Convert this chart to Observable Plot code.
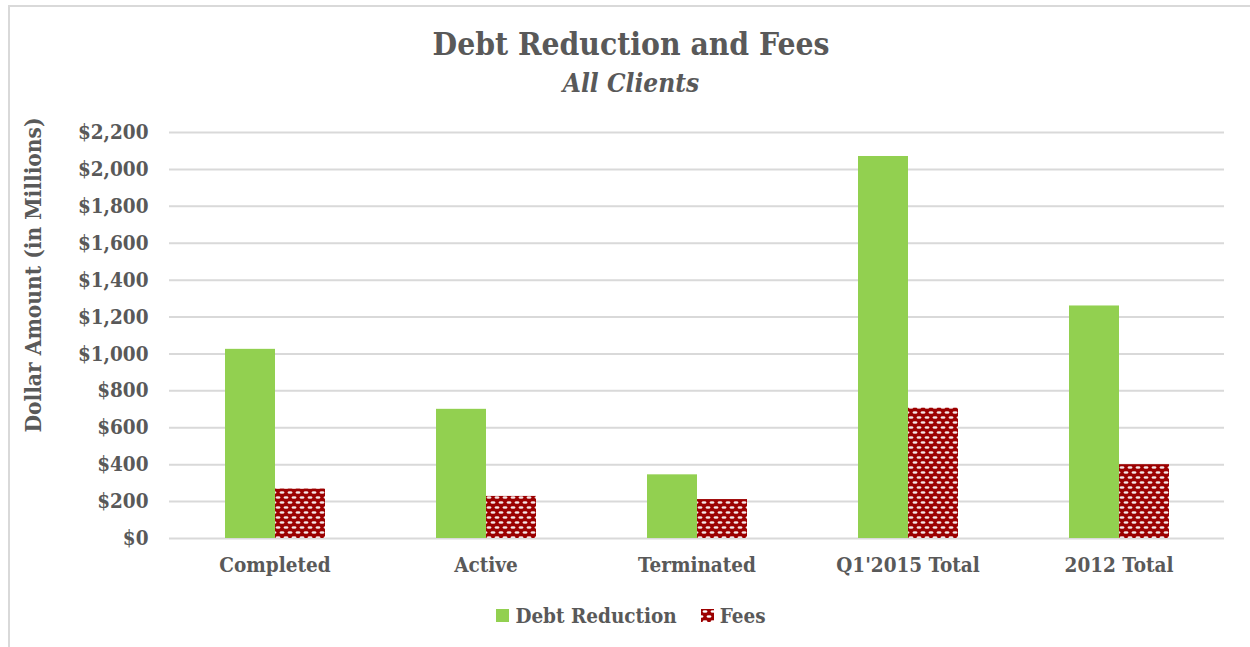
<!DOCTYPE html>
<html>
<head>
<meta charset="utf-8">
<script src="https://cdn.jsdelivr.net/npm/d3@7"></script>
<script src="https://cdn.jsdelivr.net/npm/@observablehq/plot@0.6"></script>
<style>
  html, body { margin: 0; padding: 0; background: #fff; width: 1250px; height: 647px; overflow: hidden; }
  body { font-family: "DejaVu Serif", serif; font-stretch: condensed; color: #595959; position: relative; }
  #frame { position: absolute; left: 8px; top: 5px; width: 1260px; height: 660px; border: 2px solid #d9d9d9; box-sizing: border-box; }
  #title { position: absolute; left: 0; width: 1262px; top: 26px; text-align: center; font-weight: bold; font-size: 31.5px; line-height: 36px; }
  #subtitle { position: absolute; left: 0; width: 1262px; top: 67px; text-align: center; font-weight: bold; font-style: italic; font-size: 26px; line-height: 32px; }
  #ylabel { position: absolute; left: 33px; top: 275px; transform: translate(-50%, -50%) rotate(-90deg); white-space: nowrap; font-weight: bold; font-size: 22.5px; }
  #chart { position: absolute; left: 0; top: 115px; }
  #legend { position: absolute; left: 0; width: 1262px; top: 602px; text-align: center; font-weight: bold; font-size: 20.5px; line-height: 26px; }
  .item { display: inline-flex; align-items: center; margin: 0 12px; }
  .sw { display: inline-block; width: 13px; height: 13px; margin-right: 6px; }
</style>
</head>
<body>
<div id="frame"></div>
<div id="title">Debt Reduction and Fees</div>
<div id="subtitle">All Clients</div>
<div id="ylabel">Dollar Amount (in Millions)</div>
<div id="chart"></div>
<div id="legend"></div>
<script>
const categories = ["Completed", "Active", "Terminated", "Q1'2015 Total", "2012 Total"];
const series = ["Debt Reduction", "Fees"];
const debtReduction = [1025, 700, 345, 2070, 1260];
const fees = [268, 228, 211, 706, 400];
const yTicks = [0, 200, 400, 600, 800, 1000, 1200, 1400, 1600, 1800, 2000, 2200];

const GREEN = "#92d050";
const RED = "#9c0000";
const FEES_FILL = "url(#feesPattern)";

const rows = [];
categories.forEach((c, i) => {
  rows.push({category: c, series: series[0], value: debtReduction[i]});
  rows.push({category: c, series: series[1], value: fees[i]});
});

const fontFamily = '"DejaVu Serif", serif';

const chart = Plot.plot({
  width: 1250,
  height: 465,
  marginLeft: 167,
  marginRight: 24,
  marginTop: 17,
  marginBottom: 42,
  style: {fontFamily, fontSize: "20.5px", fontWeight: "bold", color: "#595959", background: "transparent", fontStretch: "condensed"},
  fx: {domain: categories, padding: 0, label: null, tickSize: 0, tickPadding: 19, axis: "bottom"},
  x: {domain: series, axis: null, paddingInner: 0, paddingOuter: 1.076},
  y: {domain: [0, 2200], ticks: yTicks, tickFormat: d => "$" + d3.format(",")(d), label: null, tickSize: 0, tickPadding: 21},
  marks: [
    Plot.gridY(yTicks, {stroke: "#d9d9d9", strokeOpacity: 1, strokeWidth: 2}),
    Plot.barY(rows.filter(d => d.series === series[0]), {fx: "category", x: "series", y: "value", fill: GREEN}),
    Plot.barY(rows.filter(d => d.series === series[1]), {fx: "category", x: "series", y: "value", fill: FEES_FILL})
  ]
});

// pattern for fees bars
const ns = "http://www.w3.org/2000/svg";
const defs = document.createElementNS(ns, "defs");
defs.innerHTML = `
<pattern id="feesPattern" patternUnits="userSpaceOnUse" width="8" height="10">
  <rect width="8" height="10" fill="${RED}"/>
  <ellipse cx="4" cy="2.5" rx="2.5" ry="1.2" fill="#ffffff" fill-opacity="0.9"/>
  <ellipse cx="0" cy="7.5" rx="2.5" ry="1.2" fill="#ffffff" fill-opacity="0.9"/>
  <ellipse cx="8" cy="7.5" rx="2.5" ry="1.2" fill="#ffffff" fill-opacity="0.9"/>
</pattern>`;
chart.insertBefore(defs, chart.firstChild);
document.getElementById("chart").appendChild(chart);

// legend
const legend = document.getElementById("legend");
series.forEach((s, i) => {
  const item = document.createElement("span");
  item.className = "item";
  const sw = document.createElementNS(ns, "svg");
  sw.setAttribute("class", "sw");
  sw.setAttribute("width", 13);
  sw.setAttribute("height", 13);
  if (i === 0) {
    sw.innerHTML = `<rect width="13" height="13" fill="${GREEN}"/>`;
  } else {
    sw.innerHTML = `<defs><pattern id="feesPatternL" patternUnits="userSpaceOnUse" width="8" height="10">
      <rect width="8" height="10" fill="${RED}"/>
      <ellipse cx="4" cy="2.5" rx="2.5" ry="1.2" fill="#fff"/>
      <ellipse cx="0" cy="7.5" rx="2.5" ry="1.2" fill="#fff"/>
      <ellipse cx="8" cy="7.5" rx="2.5" ry="1.2" fill="#fff"/></pattern></defs>
      <rect width="13" height="13" fill="url(#feesPatternL)"/>`;
  }
  item.appendChild(sw);
  item.appendChild(document.createTextNode(s));
  legend.appendChild(item);
});
</script>
</body>
</html>
